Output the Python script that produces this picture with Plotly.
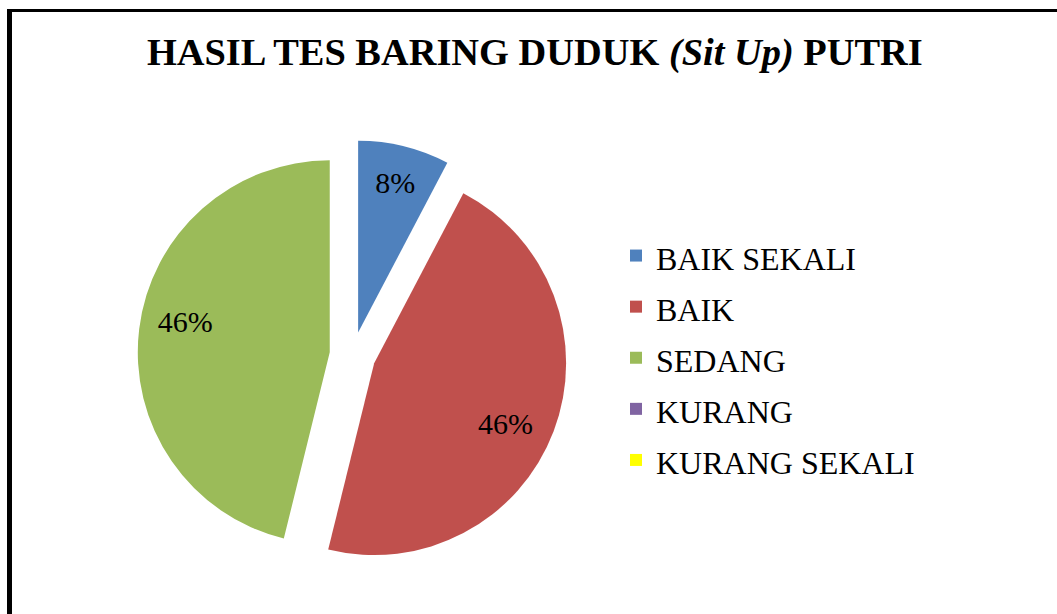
import plotly.graph_objects as go

labels = ["BAIK SEKALI", "BAIK", "SEDANG", "KURANG", "KURANG SEKALI"]
values = [1, 6, 6, 0, 0]
colors = ["#4F81BD", "#C0504D", "#9BBB59", "#8064A2", "#FFFF00"]
title_text = "<b>HASIL TES BARING DUDUK <i>(Sit Up)</i> PUTRI</b>"

# Excel puts the labels further out than plotly does, so pad the big ones
nb = "\u00a0"
pct = "%{percent:.0%}"
templates = [
    pct,
    '<span style="font-size:46px">' + nb + "</span><br>" + nb * 11 + pct,
    pct + nb * 13 + "<br>" + nb,
    "",
    "",
]
legend_names = ['<span style="font-size:32px">%s</span>' % s for s in labels]

pie = go.Pie(
    labels=legend_names,
    values=values,
    sort=False,
    direction="clockwise",
    rotation=0,
    pull=0.12,
    marker=dict(colors=colors),
    texttemplate=templates,
    textposition="inside",
    insidetextorientation="horizontal",
    textfont=dict(family="Liberation Serif", size=30, color="black"),
    domain=dict(x=[0.1302, 0.5370], y=[0.0717, 0.7720]),
    hoverinfo="label+percent",
)

fig = go.Figure(data=[pie])
fig.update_layout(
    width=1057,
    height=614,
    margin=dict(l=0, r=0, t=0, b=0),
    paper_bgcolor="white",
    plot_bgcolor="white",
    font=dict(family="Liberation Serif", color="black"),
    title=dict(
        text=title_text,
        font=dict(family="Liberation Serif", size=38.4, color="black"),
        x=0.506, xanchor="center",
        y=1 - 52 / 614, yanchor="middle",
    ),
    legend=dict(
        x=(656 - 40) / 1057, xanchor="left",
        y=1 - 358 / 614, yanchor="middle",
        font=dict(family="Liberation Serif", size=37, color="black"),
        bgcolor="rgba(0,0,0,0)",
    ),
    shapes=[
        dict(type="line", xref="paper", yref="paper",
             x0=9.5 / 1057, x1=1.05, y0=1 - 10.5 / 614, y1=1 - 10.5 / 614,
             line=dict(color="black", width=3)),
        dict(type="line", xref="paper", yref="paper",
             x0=9.5 / 1057, x1=9.5 / 1057, y0=1 - 9 / 614, y1=-0.05,
             line=dict(color="black", width=5)),
    ],
)

# drop the default 8px body margin so the figure sits at the window corner
fig.write_html(
    "out.html",
    config={"displayModeBar": False},
    post_script="document.body.style.margin = '0';",
)
